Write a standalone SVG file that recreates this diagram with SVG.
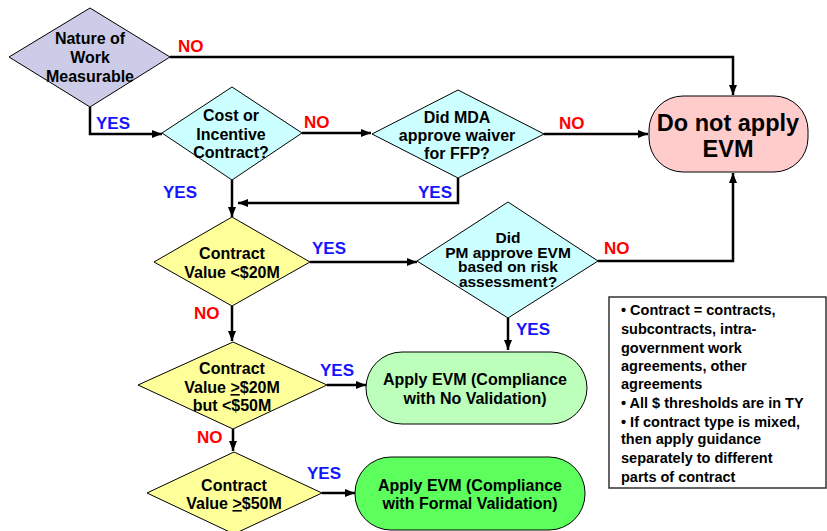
<svg xmlns="http://www.w3.org/2000/svg" width="827" height="531" viewBox="0 0 827 531">
<defs>
<style>
.t{font-family:"Liberation Sans",Arial,sans-serif;font-weight:bold;font-size:16px;fill:#000;text-anchor:middle}
.s{font-size:15.5px}
.big{font-size:23.5px}
.note{font-family:"Liberation Sans",Arial,sans-serif;font-weight:bold;font-size:14.5px;fill:#000}
.yes{font-family:"Liberation Sans",Arial,sans-serif;font-weight:bold;font-size:17px;fill:#1414FF}
.no{font-family:"Liberation Sans",Arial,sans-serif;font-weight:bold;font-size:17px;fill:#FF0000}
.d{stroke:#000;stroke-width:1}
.c{fill:none;stroke:#000;stroke-width:2.5}
</style>
<marker id="ah" markerWidth="10" markerHeight="8" refX="10" refY="4" orient="auto" markerUnits="userSpaceOnUse"><path d="M0,0 L10,4 L0,8 z" fill="#000"/></marker>
</defs>
<rect width="827" height="531" fill="#fff"/>
<g id="connectors">
<path class="c" d="M170,57 H733 V95" marker-end="url(#ah)"/>
<path class="c" d="M90,107 V134 H162" marker-end="url(#ah)"/>
<path class="c" d="M302,133 H371" marker-end="url(#ah)"/>
<path class="c" d="M544,134 H648" marker-end="url(#ah)"/>
<path class="c" d="M458,178 V203 H238" marker-end="url(#ah)"/>
<path class="c" d="M232,180 V217" marker-end="url(#ah)"/>
<path class="c" d="M310,262 H417" marker-end="url(#ah)"/>
<path class="c" d="M598,261 H733 V173" marker-end="url(#ah)"/>
<path class="c" d="M508,318 V350" marker-end="url(#ah)"/>
<path class="c" d="M232,306 V341" marker-end="url(#ah)"/>
<path class="c" d="M327,385 H366" marker-end="url(#ah)"/>
<path class="c" d="M233,429 V451" marker-end="url(#ah)"/>
<path class="c" d="M322,493 H355" marker-end="url(#ah)"/>
<text class="no" x="178" y="52">NO</text>
<text class="yes" x="96" y="129">YES</text>
<text class="no" x="304" y="128">NO</text>
<text class="yes" x="163" y="198">YES</text>
<text class="yes" x="418" y="198">YES</text>
<text class="no" x="559" y="129">NO</text>
<text class="yes" x="312" y="254">YES</text>
<text class="no" x="194" y="319">NO</text>
<text class="no" x="604" y="254">NO</text>
<text class="yes" x="516" y="335">YES</text>
<text class="yes" x="320" y="376">YES</text>
<text class="no" x="197" y="443">NO</text>
<text class="yes" x="307" y="479">YES</text>
</g>
<g id="n1">
<polygon class="d" points="90,8 170,57 90,107 9,57" fill="#CCCCE8"/>
<text class="t" x="90" y="44">Nature of</text>
<text class="t" x="90" y="63">Work</text>
<text class="t" x="90" y="82">Measurable</text>
</g>
<g id="n2">
<polygon class="d" points="232,87 302,133 232,180 162,133" fill="#CCFFFF"/>
<text class="t" x="231" y="121">Cost or</text>
<text class="t" x="231" y="140">Incentive</text>
<text class="t" x="231" y="158">Contract?</text>
</g>
<g id="n3">
<polygon class="d" points="458,90 544,134 458,178 372,134" fill="#CCFFFF"/>
<text class="t" x="457" y="123">Did MDA</text>
<text class="t" x="457" y="141">approve waiver</text>
<text class="t" x="457" y="159">for FFP?</text>
</g>
<g id="n4">
<rect class="d" x="649" y="96" width="159" height="76" rx="34" ry="34" fill="#FFCCCC"/>
<text class="t big" x="728" y="131">Do not apply</text>
<text class="t big" x="728" y="157">EVM</text>
</g>
<g id="n5">
<polygon class="d" points="232,217 310,262 232,306 154,262" fill="#FFFF99"/>
<text class="t" x="232" y="259">Contract</text>
<text class="t" x="232" y="278">Value &lt;$20M</text>
</g>
<g id="n6">
<polygon class="d" points="508,202 598,261 508,318 417,261" fill="#CCFFFF"/>
<text class="t s" x="508" y="243">Did</text>
<text class="t s" x="508" y="258">PM approve EVM</text>
<text class="t s" x="508" y="272">based on risk</text>
<text class="t s" x="508" y="287">assessment?</text>
</g>
<g id="n7">
<polygon class="d" points="233,342 327,385 233,429 138,385" fill="#FFFF99"/>
<text class="t" x="232" y="374">Contract</text>
<text class="t" x="232" y="393">Value <tspan text-decoration="underline">&gt;</tspan>$20M</text>
<text class="t" x="232" y="411">but &lt;$50M</text>
</g>
<g id="n8">
<rect class="d" x="366" y="352" width="221" height="72" rx="36" ry="36" fill="#BBFFBB"/>
<text class="t" x="475" y="385">Apply EVM (Compliance</text>
<text class="t" x="475" y="404">with No Validation)</text>
</g>
<g id="n9">
<polygon class="d" points="234,452 322,493 234,534 147,493" fill="#FFFF99"/>
<text class="t" x="234" y="491">Contract</text>
<text class="t" x="234" y="509">Value <tspan text-decoration="underline">&gt;</tspan>$50M</text>
</g>
<g id="n10">
<rect class="d" x="355" y="457" width="230" height="73" rx="36" ry="36" fill="#5CFF5C"/>
<text class="t" x="470" y="491">Apply EVM (Compliance</text>
<text class="t" x="470" y="509">with Formal Validation)</text>
</g>
<g id="note">
<rect x="609" y="297" width="217" height="191" fill="#fff" stroke="#333" stroke-width="1.5"/>
<text class="note" x="621" y="315">• Contract = contracts,</text>
<text class="note" x="621" y="334">subcontracts, intra-</text>
<text class="note" x="621" y="353">government work</text>
<text class="note" x="621" y="371">agreements, other</text>
<text class="note" x="621" y="389">agreements</text>
<text class="note" x="621" y="408">• All $ thresholds are in TY</text>
<text class="note" x="621" y="427">• If contract type is mixed,</text>
<text class="note" x="621" y="444">then apply guidance</text>
<text class="note" x="621" y="463">separately to different</text>
<text class="note" x="621" y="482">parts of contract</text>
</g>
</svg>
